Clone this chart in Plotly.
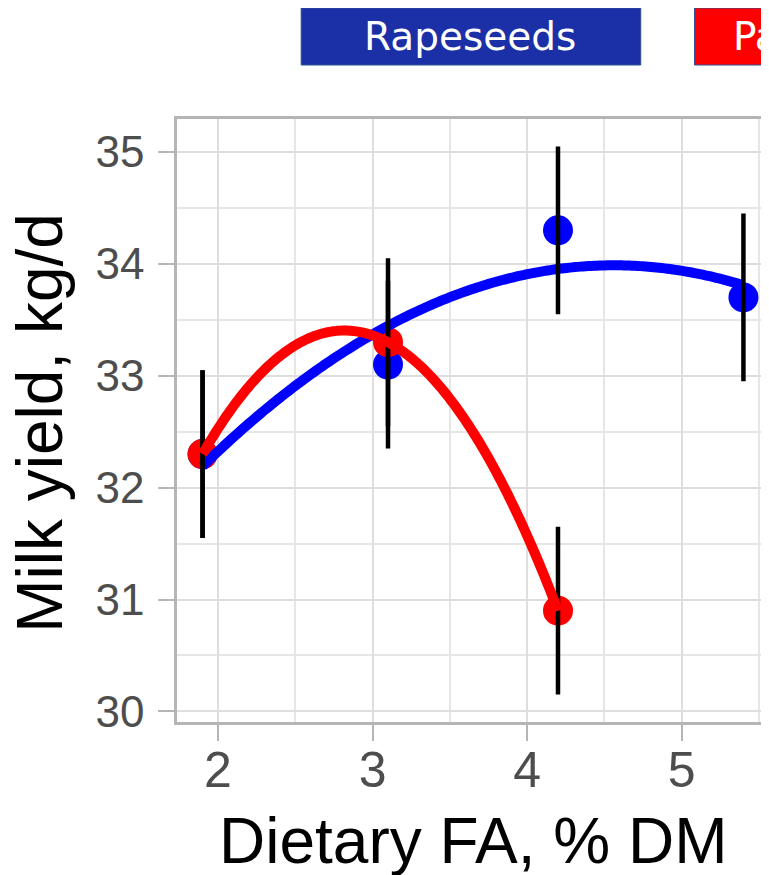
import numpy as np
import plotly.graph_objects as go

# ---- data ----
groups = ["Rapeseeds", "Palmitic acid"]
rape_x = [1.9, 3.1, 4.2, 5.4]
rape_y = [32.3, 33.1, 34.3, 33.7]
rape_se = [0.75, 0.75, 0.75, 0.75]
palm_x = [1.9, 3.1, 4.2]
palm_y = [32.3, 33.3, 30.9]
palm_se = [0.75, 0.75, 0.75]
x_ticks = [2, 3, 4, 5]
y_ticks = [30, 31, 32, 33, 34, 35]
x_title = "Dietary FA, % DM"
y_title = "Milk yield, kg/d"

BLUE = "#0000FF"
RED = "#FF0000"
BOX_BLUE = "#1B2FA6"

# page body adds an 8px offset; layout coordinates compensate for it
OFF = 8
W, H = 769, 875
L = 177.3 - OFF          # plot left in figure coords
T = 119 - OFF            # plot top
BOT = 722 - OFF          # plot bottom
RIGHT = 771.8 - OFF      # plot right (just beyond the visible window)
PW = RIGHT - L
PH = BOT - T


def sx(p):  # screen x (reference pixels) -> paper
    return (p - OFF - L) / PW


def sy(p):  # screen y (reference pixels) -> paper
    return (BOT - (p - OFF)) / PH


def fit_curve(xs, ys, n=200):
    coef = np.polyfit(xs, ys, 2)
    xx = np.linspace(min(xs), max(xs), n)
    return xx, np.polyval(coef, xx)


fig = go.Figure()

# points
fig.add_trace(go.Scatter(x=rape_x, y=rape_y, mode="markers",
                         marker=dict(color=BLUE, size=30), showlegend=False, hoverinfo="skip"))
fig.add_trace(go.Scatter(x=palm_x, y=palm_y, mode="markers",
                         marker=dict(color=RED, size=30), showlegend=False, hoverinfo="skip"))

# blue fitted line
bx, by = fit_curve(rape_x, rape_y)
fig.add_trace(go.Scatter(x=bx, y=by, mode="lines",
                         line=dict(color=BLUE, width=10, simplify=False),
                         showlegend=False, hoverinfo="skip"))

# error bars
for xs, ys, se in [(rape_x, rape_y, rape_se), (palm_x, palm_y, palm_se)]:
    fig.add_trace(go.Scatter(x=xs, y=ys, mode="markers",
                             marker=dict(color="rgba(0,0,0,0)", size=1),
                             error_y=dict(type="data", array=se, visible=True,
                                          color="black", thickness=4.5, width=0),
                             showlegend=False, hoverinfo="skip"))

# red fitted line
rx, ry = fit_curve(palm_x, palm_y)
fig.add_trace(go.Scatter(x=rx, y=ry, mode="lines",
                         line=dict(color=RED, width=10, simplify=False),
                         showlegend=False, hoverinfo="skip"))

GRID = "#dedede"
BORDER = "#b5b5b5"

fig.update_layout(
    width=W, height=H,
    margin=dict(l=L, r=W - RIGHT, t=T, b=H - BOT, pad=0),
    paper_bgcolor="white", plot_bgcolor="white",
    font=dict(family="Liberation Sans, Arial, sans-serif"),
    xaxis=dict(
        range=[1.7345, 5.5655], tickvals=x_ticks, ticktext=[str(v) for v in x_ticks],
        showgrid=True, gridcolor=GRID, gridwidth=2,
        minor=dict(dtick=0.5, tick0=1.5, showgrid=True, gridcolor="#e6e6e6", gridwidth=1.5),
        showline=True, linecolor=BORDER, linewidth=2.5, mirror=True,
        ticks="outside", ticklen=16, tickwidth=2, tickcolor=BORDER,
        tickfont=dict(size=50, color="#4d4d4d"), ticklabelstandoff=-14,
        zeroline=False,
    ),
    yaxis=dict(
        range=[29.905, 35.295], tickvals=y_ticks, ticktext=[str(v) for v in y_ticks],
        showgrid=True, gridcolor=GRID, gridwidth=2,
        minor=dict(dtick=0.5, tick0=29.5, showgrid=True, gridcolor="#e6e6e6", gridwidth=1.5),
        showline=True, linecolor=BORDER, linewidth=2.5, mirror=True,
        ticks="outside", ticklen=16, tickwidth=2, tickcolor=BORDER,
        tickfont=dict(size=44, color="#4d4d4d"), ticklabelstandoff=5,
        zeroline=False,
    ),
)

# axis titles
fig.add_annotation(xref="paper", yref="paper", x=sx(475), y=sy(841),
                   text=x_title, showarrow=False, xanchor="center", yanchor="middle",
                   font=dict(size=64, color="black"))
fig.add_annotation(xref="paper", yref="paper", x=sx(39), y=sy(422.5),
                   text=y_title, showarrow=False, xanchor="center", yanchor="middle",
                   textangle=-90, font=dict(size=64, color="black"))

# legend-like boxes at the top
boxes = [(groups[0], BOX_BLUE, 302, 643), (groups[1], RED, 697, 1040)]
for name, col, x0, x1 in boxes:
    fig.add_shape(type="rect", xref="paper", yref="paper",
                  x0=sx(x0), x1=sx(x1), y0=sy(65), y1=sy(8),
                  fillcolor=col, line=dict(color="#2F528F", width=1))

fig.add_annotation(xref="paper", yref="paper", x=sx(472), y=sy(36.5),
                   text=groups[0], showarrow=False, xanchor="center", yanchor="middle",
                   font=dict(family="DejaVu Sans", size=39, color="white"))
fig.add_annotation(xref="paper", yref="paper", x=sx(734), y=sy(36.5),
                   text=groups[1], showarrow=False, xanchor="left", yanchor="middle",
                   font=dict(family="DejaVu Sans", size=39, color="white"))

fig.write_html("out.html")
